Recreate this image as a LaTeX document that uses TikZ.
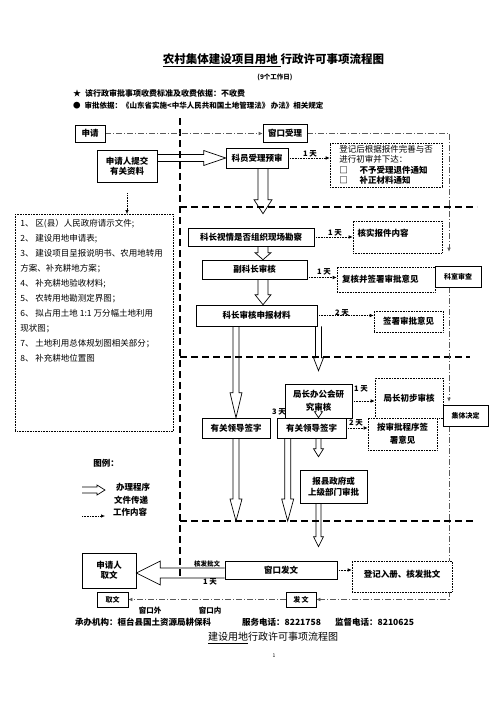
\documentclass[tikz,border=0pt]{standalone}
\usepackage{fontspec}
\setmainfont{Noto Sans CJK SC}
\usetikzlibrary{arrows.meta,calc,backgrounds}

\tikzset{
  box/.style={draw, fill=white, line width=0.6pt, inner sep=1pt, align=center,
    font=\bfseries\fontsize{8.5}{10.5}\selectfont},
  note/.style={box, densely dotted},
  boxsize/.style 2 args={minimum width=#1pt, minimum height=#2pt},
  tag/.style={inner sep=0pt, font=\bfseries\fontsize{7.5}{9}\selectfont},
  flow/.style={densely dotted, line width=0.6pt, -{Latex[length=4pt,width=3.5pt]}},
  winline/.style={black!65, line width=0.6pt, dash pattern=on 6pt off 2pt on 1pt off 2pt,
    -{Latex[length=4pt,width=3.5pt]}},
  divider/.style={line width=1.3pt, dash pattern=on 7pt off 4pt},
  fat/.style={line width=0.7pt},
  fatdown/.style n args={3}{to path={let \p1=(\tikztostart), \p2=(\tikztotarget) in
    (\x1-#1,\y1) -- (\x1-#1,\y2+#2) -- (\x1-#3,\y2+#2) -- (\x1,\y2)
    -- (\x1+#3,\y2+#2) -- (\x1+#1,\y2+#2) -- (\x1+#1,\y1)}},
  fatright/.style n args={3}{to path={let \p1=(\tikztostart), \p2=(\tikztotarget) in
    (\x1,\y1+#1) -- (\x2-#2,\y1+#1) -- (\x2-#2,\y1+#3) -- (\x2,\y1)
    -- (\x2-#2,\y1-#3) -- (\x2-#2,\y1-#1) -- (\x1,\y1-#1)}},
  fatleft/.style n args={3}{to path={let \p1=(\tikztostart), \p2=(\tikztotarget) in
    (\x1,\y1+#1) -- (\x2+#2,\y1+#1) -- (\x2+#2,\y1+#3) -- (\x2,\y1)
    -- (\x2+#2,\y1-#3) -- (\x2+#2,\y1-#1) -- (\x1,\y1-#1)}},
}

\begin{document}
\begin{tikzpicture}[x=1pt, y=-1pt]
  \useasboundingbox (0,0) rectangle (496,702);

  % heading
  \node[font=\bfseries\fontsize{11.5}{14}\selectfont] (title) at (273.5,60) {\underline{农村集体建设项目用地\ }行政许可事项流程图};
  \node[font=\bfseries\fontsize{6.5}{8}\selectfont] (days) at (275,77) {(9个工作日)};
  \node[tag, anchor=west, font=\bfseries\fontsize{8}{9}\selectfont] (fee) at (73,93) {★\hspace{4pt}该行政审批事项收费标准及收费依据：不收费};
  \node[tag, anchor=west] (basis) at (73,106) {●\hspace{4pt}审批依据：《山东省实施<中华人民共和国土地管理法》 办法》相关规定};

  % intake
  \node[box, boxsize={30}{17}] (apply) at (90,133.5) {申请};
  \node[box, boxsize={44}{18}] (wcsl) at (285,133) {窗口受理};
  \node[box, boxsize={60}{32}] (sub) at (127,166) {申请人提交\\有关资料};
  \node[box, boxsize={62}{20}] (kyys) at (257,158) {科员受理预审};
  \node[note, boxsize={112}{44}, align=left, font=\fontsize{8.5}{10.5}\selectfont] (djh) at (386,165)
    {登记后根据报件完善与否\\进行初审并下达：\\{\bfseries □\hspace{12pt}不予受理退件通知}\\{\bfseries □\hspace{12pt}补正材料通知}};
  \node[note, anchor=north west, inner sep=5pt, font=\fontsize{8.5}{15}\selectfont] (docs) at (15,214)
    {\begin{minipage}[t][207pt][t]{148pt}
     1、 区(县）人民政府请示文件;\\
     2、 建设用地申请表;\\
     3、 建设项目呈报说明书、农用地转用\\
     方案、补充耕地方案；\\
     4、 补充耕地验收材料;\\
     5、 农转用地勘测定界图；\\
     6、 拟占用土地 1:1 万分幅土地利用\\
     现状图；\\
     7、 土地利用总体规划图相关部分；\\
     8、 补充耕地位置图
     \end{minipage}};

  % section review
  \node[box, boxsize={126}{18}] (kzsq) at (251,237) {科长视情是否组织现场勘察};
  \node[note, boxsize={89}{32}, text width=80pt, align=left, text depth=8pt] (hsbj) at (397.5,237) {核实报件内容};
  \node[box, boxsize={105}{19}] (fkz) at (254.5,269.5) {副科长审核};
  \node[note, boxsize={98}{25}, text width=88pt, align=left] (fhqs) at (386,279.5) {复核并签署审批意见};
  \node[box, boxsize={46}{21}, font=\bfseries\fontsize{7}{8}\selectfont] (kssc) at (458,276.5) {科室审查};
  \node[box, boxsize={121}{21}] (kzsh) at (256.5,315.5) {科长审核申报材料};
  \node[note, boxsize={69}{21}] (qsyj) at (408.5,321.5) {签署审批意见};

  % bureau
  \node[box, boxsize={67}{34}, font=\bfseries\fontsize{8.5}{13}\selectfont] (jzbg) at (318.5,401) {局长办公会研\\究审核};
  \node[note, boxsize={68}{40}] (jzcb) at (409,398) {局长初步审核};
  \node[box, boxsize={68}{20}] (ld1) at (236,428) {有关领导签字};
  \node[box, boxsize={69}{20}] (ld2) at (311.5,428) {有关领导签字};
  \node[note, boxsize={69}{32}, font=\bfseries\fontsize{8.5}{13}\selectfont] (aspq) at (402.5,434) {按审批程序签\\署意见};
  \node[box, boxsize={45}{21}, font=\bfseries\fontsize{7}{8}\selectfont] (jtjd) at (465.5,415.5) {集体决定};
  \node[box, boxsize={67}{33}] (bxzf) at (333.5,486.5) {报县政府或\\上级部门审批};

  % issue
  \node[box, boxsize={54}{35}] (sqrqw) at (109,570.5) {申请人\\取文};
  \node[box, boxsize={112}{18}] (wcfw) at (281,570) {窗口发文};
  \node[note, boxsize={100}{31}, text depth=6pt] (djrc) at (402,576.5) {登记入册、核发批文};
  \node[box, boxsize={31}{15}, font=\bfseries\fontsize{7}{8}\selectfont] (qw) at (112.5,599.5) {取文};
  \node[box, boxsize={30}{15}, font=\bfseries\fontsize{7}{8}\selectfont] (fw) at (301,599.5) {发\,文};

  % time labels
  \node[tag] (t1) at (310,154) {1 天};
  \node[tag] (t2) at (335,233) {1 天};
  \node[tag] (t3) at (324,272) {1 天};
  \node[tag] (t4) at (342,313) {2 天};
  \node[tag] (t5) at (361,389) {1 天};
  \node[tag] (t6) at (279,412) {3 天};
  \node[tag] (t7) at (356,423) {2 天};
  \node[tag, font=\bfseries\fontsize{6.5}{8}\selectfont] (t8) at (207,564) {核发批文};
  \node[tag] (t9) at (210,582) {1 天};
  \node[tag] (wwai) at (150,611) {窗口外};
  \node[tag] (wnei) at (210,611) {窗口内};

  % footer
  \node[tag, anchor=west, font=\bfseries\fontsize{8.5}{10}\selectfont] (org) at (75,622) {承办机构：桓台县国土资源局耕保科};
  \node[tag, anchor=west, font=\bfseries\fontsize{8.5}{10}\selectfont] (tel) at (242,622) {服务电话：8221758};
  \node[tag, anchor=west, font=\bfseries\fontsize{8.5}{10}\selectfont] (sup) at (335,622) {监督电话：8210625};
  \node[font=\fontsize{10}{12}\selectfont] (foot) at (273,638) {\underline{建设用地}行政许可事项流程图};
  \node[font=\fontsize{5}{6}\selectfont] (page) at (274,656) {1};

  % legend
  \node[tag, font=\bfseries\fontsize{8.5}{10}\selectfont] (lg) at (106,463) {图例：};
  \node[tag, font=\bfseries\fontsize{8.5}{10}\selectfont] (lg1) at (133,487) {办理程序};
  \node[tag, font=\bfseries\fontsize{8.5}{10}\selectfont] (lg2) at (131,500) {文件传递};
  \node[tag, font=\bfseries\fontsize{8.5}{10}\selectfont] (lg3) at (130,512) {工作内容};
  \coordinate (lgA) at (82,490);
  \coordinate (lgB) at (105,490);
  \coordinate (lgC) at (82,516);
  \coordinate (lgD) at (105,516);

  \coordinate (cut1) at (180,207);
  \coordinate (cut2) at (180,357);
  \coordinate (cut3) at (180,521);
  \coordinate (rtop) at (449,133);
  \coordinate (rbot) at (449,599.5);
  \coordinate (spine) at (263,168);
  \coordinate (fkzr) at ($(fkz.east)+(0,8)$);
  \coordinate (ld2a) at ($(ld2.south west)+(11,0)$);
  \coordinate (wcfwl) at ($(wcfw.west)+(0,3)$);

  \begin{scope}[on background layer]
    \fill[white] (0,0) rectangle (496,702);
    \draw[divider] (180,118) -- (180,577);
    \draw[divider] (cut1) -- (477,207);
    \draw[divider] (cut2) -- (470,357);
    \draw[divider] (cut3) -- (473,521);
    \draw[winline] (apply.east) -- (apply.east -| wcsl.west);
    \draw[winline] (wcsl.east) -- (rtop) -- ($(kssc.north -| rtop)+(0,-14)$);
    \draw[winline] (kssc.south -| rtop) -- ($(jtjd.north -| rtop)+(0,-3)$);
    \draw[winline] (jtjd.south -| rtop) -- (rbot) -- (fw.east);
    \draw[winline] (fw.west) -- (qw.east);
  \end{scope}

  % work content
  \draw[flow, shorten <=11pt] (sub.south) -- (sub.south |- docs.north);
  \draw[flow] (kyys.east) -- (kyys.east -| djh.west);
  \draw[flow] (kzsq.east) -- (kzsq.east -| hsbj.west);
  \draw[flow] (fkzr) -- (fkzr -| fhqs.west);
  \draw[flow] (kzsh.east) -- (kzsh.east -| qsyj.west);
  \draw[flow] (jzbg.east) -- (jzbg.east -| jzcb.west);
  \draw[flow] (ld2.east) -- (ld2.east -| aspq.west);
  \draw[flow] (wcfw.east) -- (wcfw.east -| djrc.west);
  \draw[flow] (lgC) -- (lgD);

  % procedure
  \draw[fat] (sub.east |- kyys) to[fatright={3.5pt}{22pt}{7.5pt}] (kyys.west);
  \draw[fat] (kyys.south -| spine) to[fatdown={5pt}{14pt}{9pt}] ($(kzsq.north -| spine)+(0,-14)$);
  \draw[fat] (kzsq.south -| spine) to[fatdown={5pt}{7pt}{8pt}] (fkz.north -| spine);
  \draw[fat] (fkz.south -| spine) to[fatdown={5pt}{10pt}{8pt}] (kzsh.north -| spine);
  \draw[fat] (kzsh.south -| ld1) to[fatdown={3pt}{25pt}{6pt}] (ld1.north);
  \draw[fat] (kzsh.south -| jzbg) to[fatdown={3pt}{13pt}{5pt}] ($(jzbg.north)+(0,-13)$);
  \draw[fat] ($(jzbg.south)+(0,-12)$) to[fatdown={2.5pt}{6pt}{4pt}] (ld2.north -| jzbg);
  \draw[fat] (ld1.south) to[fatdown={3pt}{22pt}{6pt}] (ld1.south |- cut3);
  \draw[fat] (ld2a) to[fatdown={3pt}{22pt}{6pt}] (ld2a |- cut3);
  \draw[fat] (ld2.south -| jzbg) to[fatdown={2.5pt}{8pt}{5pt}] ($(bxzf.north -| jzbg)+(0,-13)$);
  \draw[fat] (bxzf.south -| jzbg) to[fatdown={2.5pt}{10pt}{5pt}] ($(wcfw.north -| jzbg)+(0,-14)$);
  \draw[fat] (wcfwl) to[fatleft={5pt}{24pt}{12pt}] (sqrqw.east |- wcfwl);
  \draw[fat] (lgA) to[fatright={3pt}{8pt}{5pt}] (lgB);
\end{tikzpicture}
\end{document}
